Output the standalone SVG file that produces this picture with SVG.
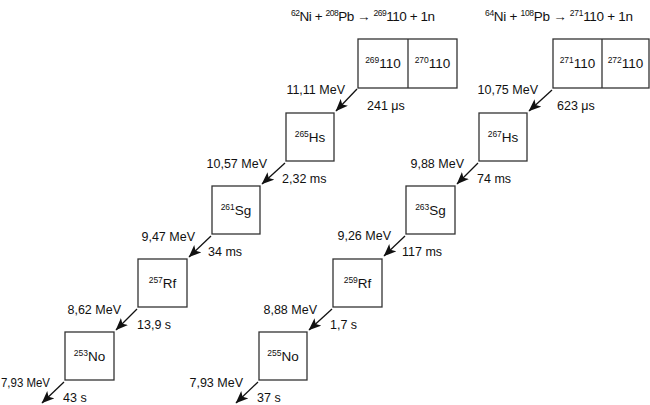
<svg xmlns="http://www.w3.org/2000/svg" width="650" height="405" viewBox="0 0 650 405">
<defs>
<marker id="ah" markerUnits="userSpaceOnUse" markerWidth="14" markerHeight="11" refX="12" refY="5" orient="auto">
<path d="M0,0 L12.5,5 L0,10 L3,5 z" fill="#111"/>
</marker>
<style>
.box{fill:#fff;stroke:#333;stroke-width:1.3}
.lbl{font-family:"Liberation Sans",Arial,sans-serif;font-size:13.5px;fill:#111;text-anchor:middle}
.t{font-family:"Liberation Sans",Arial,sans-serif;font-size:12.5px;fill:#111}
.r{text-anchor:end}
.eq{font-family:"Liberation Sans",Arial,sans-serif;font-size:13.5px;fill:#111;text-anchor:middle}
.s{font-size:8.5px}
.c{stroke:#111;stroke-width:1.3;fill:none;marker-end:url(#ah)}
</style>
</defs>
<rect width="650" height="405" fill="#fff"/>

<g id="eq1"><text class="eq" x="363" y="21" textLength="144"><tspan class="s" dy="-5">62</tspan><tspan dy="5">Ni + </tspan><tspan class="s" dy="-5">208</tspan><tspan dy="5">Pb → </tspan><tspan class="s" dy="-5">269</tspan><tspan dy="5">110 + 1n</tspan></text></g>
<g id="eq2"><text class="eq" x="559" y="21" textLength="148"><tspan class="s" dy="-5">64</tspan><tspan dy="5">Ni + </tspan><tspan class="s" dy="-5">108</tspan><tspan dy="5">Pb → </tspan><tspan class="s" dy="-5">271</tspan><tspan dy="5">110 + 1n</tspan></text></g>

<!-- left chain -->
<g id="n269-270">
<rect class="box" x="358" y="39" width="99" height="49"/>
<line x1="408" y1="39" x2="408" y2="88" stroke="#333" stroke-width="1.3"/>
<text class="lbl" x="383" y="68"><tspan class="s" dy="-5">269</tspan><tspan dy="5">110</tspan></text>
<text class="lbl" x="432.5" y="68"><tspan class="s" dy="-5">270</tspan><tspan dy="5">110</tspan></text>
</g>
<g id="n265Hs"><rect class="box" x="286" y="113" width="48" height="48"/>
<text class="lbl" x="310" y="142"><tspan class="s" dy="-5">265</tspan><tspan dy="5">Hs</tspan></text></g>
<g id="n261Sg"><rect class="box" x="212" y="186" width="48" height="48"/>
<text class="lbl" x="236" y="215"><tspan class="s" dy="-5">261</tspan><tspan dy="5">Sg</tspan></text></g>
<g id="n257Rf"><rect class="box" x="138" y="259" width="49" height="48"/>
<text class="lbl" x="162.5" y="288"><tspan class="s" dy="-5">257</tspan><tspan dy="5">Rf</tspan></text></g>
<g id="n253No"><rect class="box" x="65" y="332" width="49" height="48"/>
<text class="lbl" x="89.5" y="361"><tspan class="s" dy="-5">253</tspan><tspan dy="5">No</tspan></text></g>

<!-- right chain -->
<g id="n271-272">
<rect class="box" x="553" y="39" width="96" height="49"/>
<line x1="602" y1="39" x2="602" y2="88" stroke="#333" stroke-width="1.3"/>
<text class="lbl" x="577.5" y="68"><tspan class="s" dy="-5">271</tspan><tspan dy="5">110</tspan></text>
<text class="lbl" x="625.5" y="68"><tspan class="s" dy="-5">272</tspan><tspan dy="5">110</tspan></text>
</g>
<g id="n267Hs"><rect class="box" x="479" y="113" width="48" height="48"/>
<text class="lbl" x="503" y="142"><tspan class="s" dy="-5">267</tspan><tspan dy="5">Hs</tspan></text></g>
<g id="n263Sg"><rect class="box" x="406" y="186" width="49" height="48"/>
<text class="lbl" x="430.5" y="215"><tspan class="s" dy="-5">263</tspan><tspan dy="5">Sg</tspan></text></g>
<g id="n259Rf"><rect class="box" x="333" y="259" width="49" height="48"/>
<text class="lbl" x="357.5" y="288"><tspan class="s" dy="-5">259</tspan><tspan dy="5">Rf</tspan></text></g>
<g id="n255No"><rect class="box" x="259" y="332" width="48" height="48"/>
<text class="lbl" x="283" y="361"><tspan class="s" dy="-5">255</tspan><tspan dy="5">No</tspan></text></g>

<g id="connectors">
<line class="c" x1="357" y1="89" x2="336" y2="111"/>
<line class="c" x1="285" y1="163" x2="262" y2="184"/>
<line class="c" x1="211" y1="236" x2="189" y2="257"/>
<line class="c" x1="137" y1="309" x2="116" y2="330"/>
<line class="c" x1="64" y1="382" x2="42" y2="403"/>
<line class="c" x1="552" y1="90" x2="529" y2="111"/>
<line class="c" x1="478" y1="163" x2="457" y2="184"/>
<line class="c" x1="405" y1="236" x2="384" y2="256"/>
<line class="c" x1="332" y1="309" x2="309" y2="330"/>
<line class="c" x1="258" y1="382" x2="236" y2="403"/>
</g>

<g id="labels">
<text class="t r" x="345" y="94">11,11 MeV</text>
<text class="t" x="367" y="110">241 μs</text>
<text class="t r" x="267" y="168">10,57 MeV</text>
<text class="t" x="282" y="183">2,32 ms</text>
<text class="t r" x="195" y="241">9,47 MeV</text>
<text class="t" x="208" y="256">34 ms</text>
<text class="t r" x="121" y="314">8,62 MeV</text>
<text class="t" x="137" y="329">13,9 s</text>
<text class="t" x="1" y="387" textLength="49" lengthAdjust="spacingAndGlyphs">7,93 MeV</text>
<text class="t" x="63" y="402">43 s</text>

<text class="t r" x="538" y="94">10,75 MeV</text>
<text class="t" x="557" y="110">623 μs</text>
<text class="t r" x="464" y="168">9,88 MeV</text>
<text class="t" x="477" y="183">74 ms</text>
<text class="t r" x="391" y="240">9,26 MeV</text>
<text class="t" x="402" y="256">117 ms</text>
<text class="t r" x="317" y="314">8,88 MeV</text>
<text class="t" x="330" y="329">1,7 s</text>
<text class="t r" x="243" y="387">7,93 MeV</text>
<text class="t" x="257" y="402">37 s</text>
</g>
</svg>
